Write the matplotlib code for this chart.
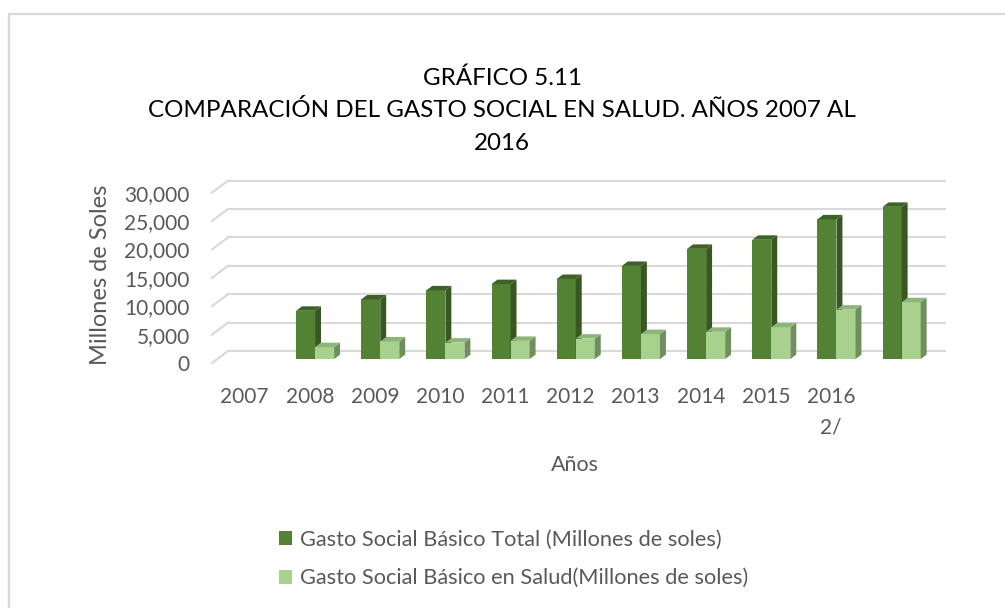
import numpy as np
import matplotlib
matplotlib.use("Agg")
import matplotlib.pyplot as plt
from matplotlib.patches import Polygon
from matplotlib.lines import Line2D

plt.rcParams['font.family'] = ['Lato', 'DejaVu Sans']

# data (millones de soles)
categories = ["2007", "2008", "2009", "2010", "2011", "2012", "2013",
              "2014", "2015", "2016\n2/", ""]
gasto_total = [0, 8500, 10500, 12100, 13200, 14100, 16400, 19400, 21000, 24600, 26800]
gasto_salud = [0, 2100, 3100, 2900, 3200, 3600, 4400, 4800, 5600, 8700, 10000]
yticks = [0, 5000, 10000, 15000, 20000, 25000, 30000]

label_total = "Gasto Social Básico Total (Millones de soles)"
label_salud = "Gasto Social Básico en Salud(Millones de soles)"

# colours: front, side, top
dark = ("#548235", "#385723", "#3d6127")
light = ("#a9d18e", "#6f8f5c", "#8cb57a")
grid_col = "#d9d9d9"
text_col = "#595959"

W, H = 1005, 608
fig = plt.figure(figsize=(W / 100, H / 100), dpi=100)

# fake 3d depth, in data units
n = len(categories)
DX = 0.246          # full depth shift along x (category units)
DY = 2113           # full depth shift along y (value units)
ymax = yticks[-1]

x0_px, x1_px = 212, 945
ybot_px, ytop_px = 363, 180.6
ax = fig.add_axes([x0_px / W, 1 - ybot_px / H, (x1_px - x0_px) / W, (ybot_px - ytop_px) / H])
ax.set_xlim(-0.5, n - 0.5 + DX)
ax.set_ylim(0, ymax + DY)
for s in ax.spines.values():
    s.set_visible(False)

# walls / gridlines
for v in yticks:
    ax.plot([-0.5, -0.5 + DX], [v, v + DY], color=grid_col, lw=1.5, zorder=1, clip_on=False)
    ax.plot([-0.5 + DX, n - 0.5 + DX], [v + DY, v + DY], color=grid_col, lw=1.5,
            zorder=1, clip_on=False)

# bars
w = 0.292
d0, d1 = 0.33, 0.70
dd = d1 - d0
base = d0 * DY


def bar3d(xl, h, cols, label=None):
    if h <= 0:
        return None
    b = ax.bar(xl, h, width=w, bottom=base, align='edge', color=cols[0],
               label=label, zorder=3, clip_on=False)
    xr = xl + w
    top = base + h
    side = [(xr, base), (xr, top), (xr + dd * DX, top + dd * DY), (xr + dd * DX, base + dd * DY)]
    cap = [(xl, top), (xr, top), (xr + dd * DX, top + dd * DY), (xl + dd * DX, top + dd * DY)]
    ax.add_patch(Polygon(side, closed=True, facecolor=cols[1], edgecolor='none', zorder=3, clip_on=False))
    ax.add_patch(Polygon(cap, closed=True, facecolor=cols[2], edgecolor='none', zorder=3, clip_on=False))
    return b


h_tot = h_sal = None
for i in range(n):
    xc = i + d0 * DX
    r1 = bar3d(xc - w, gasto_total[i], dark, label_total if h_tot is None else None)
    h_tot = h_tot or r1
    r2 = bar3d(xc, gasto_salud[i], light, label_salud if h_sal is None else None)
    h_sal = h_sal or r2

# ticks
ax.set_yticks(yticks)
ax.set_yticklabels([f"{v:,}" for v in yticks])
ax.set_xticks(np.arange(n))
ax.set_xticklabels(categories)
ax.tick_params(axis='both', length=0, labelsize=15, labelcolor=text_col)
ax.tick_params(axis='y', pad=16)
ax.tick_params(axis='x', pad=17)
for t in ax.get_xticklabels():
    t.set_linespacing(1.65)
    t.set_va('top')

# titles
fig.text(502 / W, 1 - 78 / H, "GRÁFICO 5.11", ha='center', va='center', fontsize=17.4, color='black')
fig.text(502 / W, 1 - 110 / H, "COMPARACIÓN DEL GASTO SOCIAL EN SALUD. AÑOS 2007 AL",
         ha='center', va='center', fontsize=17.4, color='black')
fig.text(502 / W, 1 - 143 / H, "2016", ha='center', va='center', fontsize=17.4, color='black')

fig.text(100 / W, 1 - 275 / H, "Millones de Soles", rotation=90, ha='center', va='center',
         fontsize=17, color=text_col)
fig.text(575 / W, 1 - 465 / H, "Años", ha='center', va='center', fontsize=15.5, color=text_col)

# legend
leg = fig.legend(handles=[h_tot, h_sal], loc='center left',
                 bbox_to_anchor=(259 / W, 1 - 559 / H), frameon=False,
                 handlelength=0.62, handleheight=0.62, handletextpad=0.35,
                 labelspacing=0.85, fontsize=15.7, labelcolor=text_col)

# chart border (left + top)
fig.add_artist(Line2D([8.5 / W, 8.5 / W], [0, 1 - 14 / H], color=grid_col, lw=1.6))
fig.add_artist(Line2D([8.5 / W, 1], [1 - 14 / H, 1 - 14 / H], color=grid_col, lw=1.6))

fig.savefig("out.png", dpi=100)
